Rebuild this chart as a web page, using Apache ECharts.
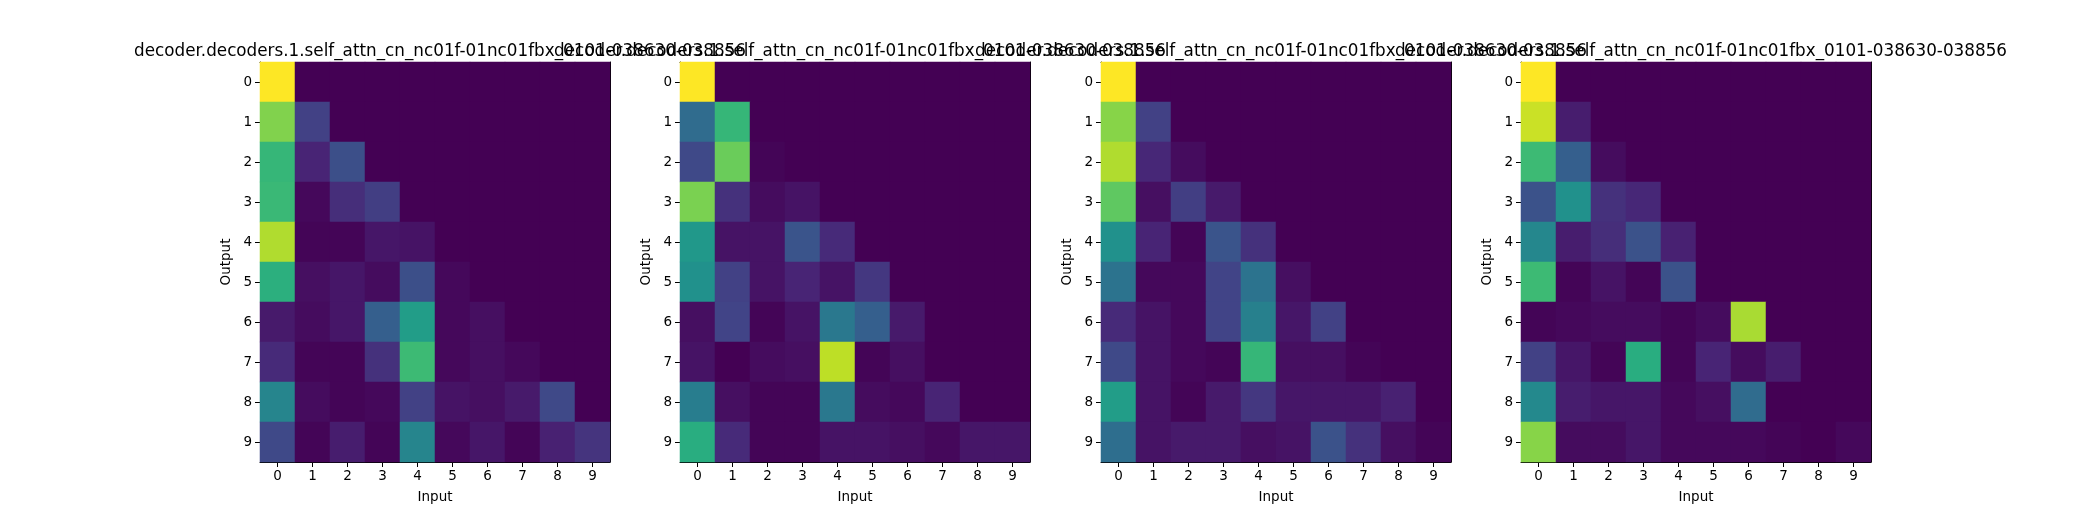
<!DOCTYPE html>
<html>
<head>
<meta charset="utf-8">
<script src="https://cdn.jsdelivr.net/npm/echarts@6/dist/echarts.min.js"></script>
<style>
html,body{margin:0;padding:0;background:#fff;}
#chart{width:2080px;height:520px;}
</style>
</head>
<body>
<div id="chart"></div>
<script>
// ---- data ----
const inputTicks = ['0','1','2','3','4','5','6','7','8','9'];
const outputTicks = ['0','1','2','3','4','5','6','7','8','9'];
const titleText = 'decoder.decoders.1.self_attn_cn_nc01f-01nc01fbx_0101-038630-038856';

const attn0 = [
  [1.00,0,0,0,0,0,0,0,0,0],
  [0.81,0.19,0,0,0,0,0,0,0,0],
  [0.66,0.10,0.24,0,0,0,0,0,0,0],
  [0.67,0.02,0.13,0.18,0,0,0,0,0,0],
  [0.88,0.01,0.01,0.06,0.05,0,0,0,0,0],
  [0.63,0.04,0.06,0.03,0.24,0.02,0,0,0,0],
  [0.07,0.03,0.06,0.30,0.55,0.02,0.04,0,0,0],
  [0.12,0.01,0.01,0.14,0.68,0.02,0.04,0.02,0,0],
  [0.45,0.03,0.01,0.02,0.19,0.05,0.04,0.07,0.22,0],
  [0.22,0.01,0.08,0.01,0.45,0.02,0.06,0.01,0.09,0.15]
];
const attn1 = [
  [1.00,0,0,0,0,0,0,0,0,0],
  [0.35,0.66,0,0,0,0,0,0,0,0],
  [0.22,0.77,0.01,0,0,0,0,0,0,0],
  [0.80,0.14,0.03,0.05,0,0,0,0,0,0],
  [0.53,0.05,0.05,0.26,0.12,0,0,0,0,0],
  [0.50,0.19,0.05,0.10,0.05,0.16,0,0,0,0],
  [0.04,0.20,0.01,0.05,0.40,0.30,0.07,0,0,0],
  [0.05,0.00,0.03,0.04,0.90,0.01,0.04,0.00,0,0],
  [0.42,0.04,0.01,0.01,0.40,0.03,0.02,0.10,0.00,0],
  [0.62,0.12,0.01,0.01,0.05,0.05,0.04,0.02,0.06,0.06]
];
const attn2 = [
  [1.00,0,0,0,0,0,0,0,0,0],
  [0.82,0.19,0,0,0,0,0,0,0,0],
  [0.88,0.11,0.03,0,0,0,0,0,0,0],
  [0.75,0.04,0.18,0.07,0,0,0,0,0,0],
  [0.50,0.10,0.01,0.26,0.14,0,0,0,0,0],
  [0.38,0.02,0.02,0.20,0.38,0.04,0,0,0,0],
  [0.12,0.05,0.02,0.20,0.43,0.06,0.19,0,0,0],
  [0.22,0.05,0.02,0.01,0.66,0.04,0.04,0.01,0,0],
  [0.55,0.05,0.01,0.07,0.16,0.06,0.06,0.06,0.09,0],
  [0.36,0.05,0.07,0.07,0.04,0.05,0.25,0.14,0.04,0.01]
];
const attn3 = [
  [1.00,0,0,0,0,0,0,0,0,0],
  [0.92,0.08,0,0,0,0,0,0,0,0],
  [0.68,0.30,0.03,0,0,0,0,0,0,0],
  [0.25,0.50,0.14,0.11,0,0,0,0,0,0],
  [0.46,0.08,0.13,0.25,0.09,0,0,0,0,0],
  [0.68,0.01,0.05,0.01,0.25,0.00,0,0,0,0],
  [0.01,0.02,0.03,0.03,0.01,0.03,0.87,0,0,0],
  [0.19,0.06,0.01,0.62,0.01,0.10,0.03,0.08,0,0],
  [0.47,0.08,0.06,0.06,0.02,0.04,0.35,0,0,0],
  [0.82,0.03,0.03,0.06,0.02,0.02,0.02,0.01,0.00,0.02]
];
const matrices = [attn0, attn1, attn2, attn3];

// ---- rendering ----
const viridis = ['#440154','#482475','#414487','#355f8d','#2a788e','#21918c','#22a884','#44bf70','#7ad151','#bddf26','#fde725'];
const font = 'DejaVu Sans';
const gridLefts = [260, 680, 1101, 1521];
const gridW = 350, gridTop = 62, gridH = 400;

const grids = [], xAxes = [], yAxes = [], series = [], visualMaps = [], titles = [];
matrices.forEach((m, i) => {
  const left = gridLefts[i];
  grids.push({left: left, top: gridTop, width: gridW, height: gridH, containLabel: false});
  titles.push({
    text: titleText, left: left + gridW / 2, top: 38, textAlign: 'center',
    textStyle: {fontFamily: font, fontSize: 16.8, fontWeight: 'normal', color: '#000'}
  });
  xAxes.push({
    type: 'category', gridIndex: i, data: inputTicks, position: 'bottom',
    name: 'Input', nameLocation: 'middle', nameGap: 28,
    nameTextStyle: {fontFamily: font, fontSize: 13.5, color: '#000'},
    axisLine: {show: true, lineStyle: {color: '#000', width: 1}},
    axisTick: {show: true, alignWithLabel: true, length: 5, lineStyle: {color: '#000'}},
    axisLabel: {fontFamily: font, fontSize: 13.5, color: '#000', margin: 7},
    splitLine: {show: false}
  });
  xAxes.push({
    type: 'category', gridIndex: i, data: inputTicks, position: 'top',
    axisLine: {show: true, onZero: false, lineStyle: {color: '#000', width: 1}},
    axisTick: {show: false}, axisLabel: {show: false}, splitLine: {show: false}
  });
  yAxes.push({
    type: 'category', gridIndex: i, data: outputTicks, inverse: true, position: 'left',
    name: 'Output', nameLocation: 'middle', nameGap: 27, nameRotate: 90,
    nameTextStyle: {fontFamily: font, fontSize: 13.5, color: '#000'},
    axisLine: {show: true, lineStyle: {color: '#000', width: 1}},
    axisTick: {show: true, alignWithLabel: true, length: 5, lineStyle: {color: '#000'}},
    axisLabel: {fontFamily: font, fontSize: 13.5, color: '#000', margin: 8},
    splitLine: {show: false}
  });
  yAxes.push({
    type: 'category', gridIndex: i, data: outputTicks, inverse: true, position: 'right',
    axisLine: {show: true, onZero: false, lineStyle: {color: '#000', width: 1}},
    axisTick: {show: false}, axisLabel: {show: false}, splitLine: {show: false}
  });
  const data = [];
  let mn = Infinity, mx = -Infinity;
  m.forEach((row, r) => row.forEach((v, c) => {
    data.push([c, r, v]);
    if (v < mn) mn = v;
    if (v > mx) mx = v;
  }));
  visualMaps.push({
    type: 'continuous', show: false, seriesIndex: i, min: mn, max: mx, dimension: 2,
    inRange: {color: viridis}
  });
  series.push({
    type: 'heatmap', xAxisIndex: 2 * i, yAxisIndex: 2 * i, data: data,
    itemStyle: {borderWidth: 0}, emphasis: {disabled: true}, progressive: 0, z: 1
  });
});

const chart = echarts.init(document.getElementById('chart'), null, {renderer: 'canvas'});
chart.setOption({
  backgroundColor: '#fff',
  animation: false,
  title: titles,
  grid: grids,
  xAxis: xAxes,
  yAxis: yAxes,
  visualMap: visualMaps,
  series: series
});
</script>
</body>
</html>
